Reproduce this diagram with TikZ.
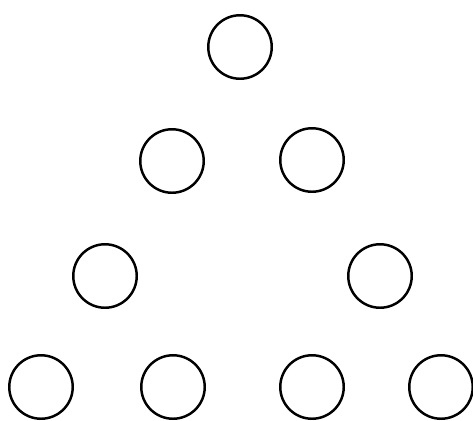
\documentclass[tikz,border=0pt]{standalone}
\usepackage{tikz}
\usetikzlibrary{positioning}

\begin{document}
\begin{tikzpicture}[
    x=0.02cm, y=-0.02cm,
    ring/.style={circle, draw=black, line width=1.4pt, minimum size=1.27cm, inner sep=0pt}
]
    \useasboundingbox (0,0) rectangle (473,420);
    \node[ring] (top) at (240,47) {};
    \node[ring] (midl) at (172,161) {};
    \node[ring] (midr) at (312,160) {};
    \node[ring] (lowl) at (105,276) {};
    \node[ring] (lowr) at (380,276) {};
    \node[ring] (basea) at (41,387) {};
    \node[ring] (baseb) at (173,387) {};
    \node[ring] (basec) at (312,387) {};
    \node[ring] (based) at (441,387) {};
\end{tikzpicture}
\end{document}
